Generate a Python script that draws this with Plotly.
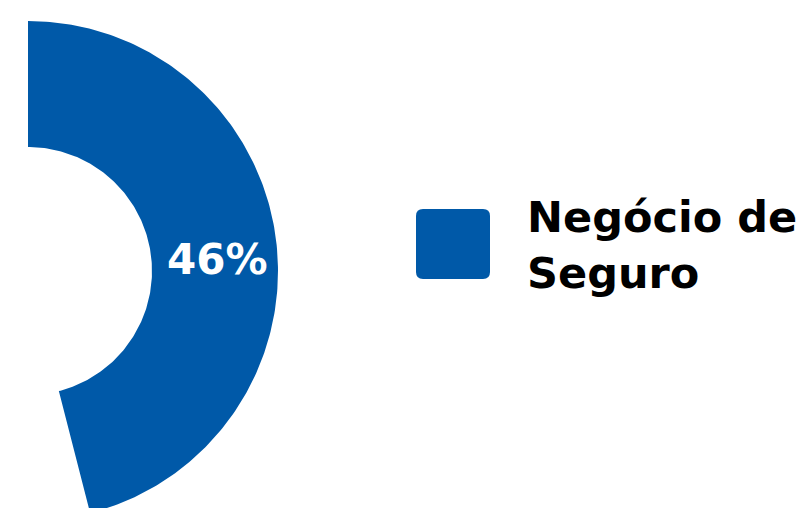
import numpy as np
import plotly.graph_objects as go

labels = ["Negócio de Seguro", "Outros"]
values = [46, 54]
colors = ["#0059A8", "rgba(0,0,0,0)"]

W, H = 805, 508
cx_px, cy_px = 28, 271
R_out, R_in = 250, 124

fig = go.Figure()

total = sum(values)
start = 0.0
mids = []
for lab, val, col in zip(labels, values, colors):
    frac = val / total
    th = np.linspace(start, start + frac * 2 * np.pi, 200)
    xs = np.concatenate([R_out * np.sin(th), R_in * np.sin(th[::-1])])
    ys = np.concatenate([R_out * np.cos(th), R_in * np.cos(th[::-1])])
    xs = np.append(xs, xs[0]); ys = np.append(ys, ys[0])
    fig.add_trace(go.Scatter(x=xs, y=ys, fill="toself", fillcolor=col, mode="lines",
                             line=dict(width=0), hoverinfo="skip", showlegend=False, name=lab))
    mids.append((start + frac * np.pi, val))
    start += frac * 2 * np.pi

# percentage label on first slice
ang, val = mids[0]
rm = (R_out + R_in) / 2
fig.add_annotation(x=rm * np.sin(ang) + 4, y=rm * np.cos(ang), text=f"{val}%", showarrow=False,
                   yshift=-12,
                   font=dict(family="DejaVu Sans", size=42, color="white", weight="bold"))

# legend swatch
x0, x1 = 416 - cx_px, 490 - cx_px
y0, y1 = cy_px - 279, cy_px - 209
r = 7
path = (f"M {x0+r},{y0} L {x1-r},{y0} Q {x1},{y0} {x1},{y0+r} L {x1},{y1-r} Q {x1},{y1} {x1-r},{y1} "
        f"L {x0+r},{y1} Q {x0},{y1} {x0},{y1-r} L {x0},{y0+r} Q {x0},{y0} {x0+r},{y0} Z")
fig.add_shape(type="path", path=path, fillcolor=colors[0], line=dict(width=0), xref="x", yref="y")
fig.add_annotation(x=525 - cx_px, y=cy_px - 245, xanchor="left", yanchor="middle", align="left",
                   text="Negócio de<br>Seguro", showarrow=False,
                   font=dict(family="DejaVu Sans", size=43, color="black", weight="bold"))

fig.update_layout(
    width=W, height=H, margin=dict(l=0, r=0, t=0, b=0),
    paper_bgcolor="white", plot_bgcolor="white",
    xaxis=dict(range=[-cx_px, W - cx_px], visible=False, fixedrange=True),
    yaxis=dict(range=[cy_px - H, cy_px], visible=False, fixedrange=True),
    showlegend=False,
)
fig.write_html("out.html")
